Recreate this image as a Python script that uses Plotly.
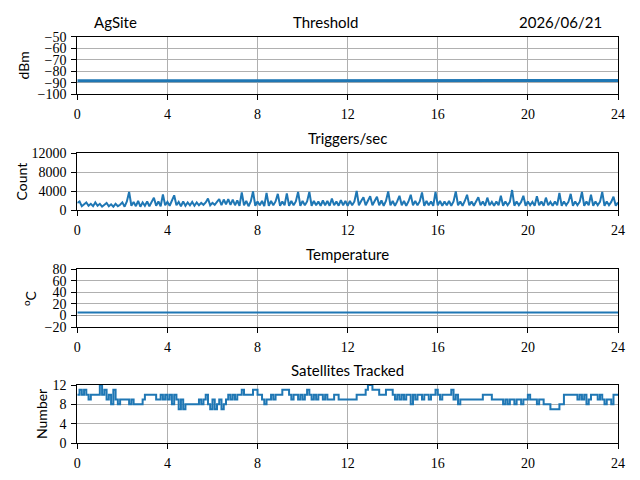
import plotly.graph_objects as go

# ---------------------------------------------------------------------------
# data (hours since midnight)
# ---------------------------------------------------------------------------
hours = [i / 10 for i in range(241)]          # 0.1 h sample grid
slow_hours = [i / 2 for i in range(49)]       # 0.5 h sample grid
temp_hours = [0, 4, 8, 12, 16, 20, 24]

threshold_dbm = [
    -88.2, -88.2, -88.3, -88.2, -88.0, -88.0, -88.0, -88.0, -88.0, -88.0,
    -88.0, -87.8, -87.9, -88.0, -88.0, -88.0, -88.0, -88.0, -88.0, -88.0,
    -88.0, -88.0, -88.0, -88.0, -88.0, -88.0, -88.0, -88.0, -88.0, -88.0,
    -88.0, -88.0, -88.0, -88.0, -88.0, -88.0, -88.0, -88.0, -88.0, -88.0,
    -88.0, -88.0, -88.0, -88.0, -88.0, -88.0, -88.0, -88.0, -88.0,
]

triggers = [
    1500, 1800, 800, 1200, 1600, 900, 1300, 800, 1600, 900,
    1300, 700, 1200, 1500, 800, 1200, 700, 1300, 800, 1100,
    1600, 700, 1800, 3800, 900, 1700, 800, 1900, 700, 1600,
    900, 1800, 800, 1700, 2600, 900, 1800, 800, 3300, 1000,
    1700, 900, 1900, 3100, 1000, 1700, 800, 1800, 900, 1600,
    1000, 1700, 900, 1600, 1000, 1500, 1100, 1600, 2400, 1000,
    1500, 1100, 1700, 2300, 1000, 2200, 1200, 2300, 1100, 2200,
    1000, 2000, 900, 3700, 1000, 1900, 800, 1800, 3900, 900,
    1800, 1000, 1900, 800, 3600, 900, 1900, 1000, 1800, 3400,
    900, 1800, 1000, 3500, 900, 1900, 1000, 1800, 3800, 900,
    1900, 1000, 1800, 3800, 900, 1900, 1000, 1800, 900, 2000,
    1000, 1900, 900, 2400, 1000, 1800, 900, 2100, 1000, 1900,
    900, 1900, 1000, 1800, 4000, 1000, 1900, 2700, 1000, 1800,
    2900, 1000, 1900, 2800, 1000, 2000, 900, 1900, 3900, 1000,
    1900, 900, 1800, 3000, 1000, 1900, 900, 1800, 3200, 1000,
    1900, 1000, 1800, 3700, 900, 1900, 1000, 1800, 900, 3800,
    1000, 1900, 900, 1800, 1000, 1900, 900, 1800, 3900, 1000,
    1800, 900, 1900, 3200, 1000, 1800, 900, 1700, 2700, 1000,
    1800, 900, 2600, 1000, 1700, 900, 1800, 1000, 3000, 900,
    1800, 1000, 1700, 4200, 900, 1800, 1000, 1700, 3000, 900,
    1800, 1000, 1700, 900, 2900, 1000, 1800, 900, 2600, 1000,
    1700, 900, 1800, 1000, 3600, 900, 1800, 1000, 1700, 3400,
    900, 1800, 1000, 1700, 3800, 900, 1800, 1000, 3200, 900,
    1800, 1000, 1700, 3800, 900, 1800, 1000, 1700, 2800, 900,
    1600,
]

temperature_c = [5.0, 5.0, 5.0, 5.0, 5.0, 5.0, 5.0]

satellites = [
    10, 11, 10, 11, 10, 9, 10, 10, 10, 10,
    12, 10, 11, 9, 10, 8, 11, 9, 8, 9,
    9, 9, 9, 8, 9, 8, 8, 8, 8, 9,
    10, 10, 10, 10, 10, 9, 9, 10, 9, 10,
    9, 10, 8, 10, 9, 7, 9, 7, 8, 8,
    8, 8, 8, 8, 9, 8, 9, 10, 8, 7,
    9, 7, 8, 9, 7, 8, 9, 10, 9, 10,
    9, 10, 10, 11, 10, 10, 10, 10, 11, 11,
    10, 10, 9, 8, 9, 9, 10, 9, 10, 10,
    10, 11, 11, 11, 10, 9, 10, 10, 9, 10,
    9, 10, 11, 10, 9, 10, 9, 10, 10, 9,
    10, 9, 9, 9, 10, 10, 9, 9, 9, 9,
    9, 9, 9, 9, 10, 10, 10, 10, 11, 12,
    12, 11, 11, 11, 10, 10, 10, 11, 11, 11,
    10, 9, 10, 9, 10, 9, 10, 10, 8, 10,
    9, 10, 10, 9, 10, 10, 9, 10, 10, 11,
    10, 9, 10, 10, 10, 10, 11, 9, 10, 8,
    9, 9, 9, 9, 9, 9, 9, 9, 9, 9,
    10, 10, 10, 10, 9, 9, 9, 9, 9, 8,
    9, 8, 9, 9, 8, 9, 9, 8, 9, 9,
    10, 9, 9, 9, 8, 9, 9, 8, 8, 8,
    7, 7, 7, 7, 8, 8, 10, 10, 10, 10,
    10, 10, 9, 10, 9, 10, 8, 9, 10, 10,
    10, 9, 10, 9, 8, 9, 9, 8, 10, 10,
    10,
]

site_name = "AgSite"
date_str = "2026/06/21"
titles = ["Threshold", "Triggers/sec", "Temperature", "Satellites Tracked"]
y_titles = ["dBm", "Count", "<sup>o</sup>C", "Number"]
y_ranges = [[-100, -50], [0, 12000], [-20, 80], [0, 12]]
y_dticks = [10, 4000, 20, 4]
x_ticks = [0, 4, 8, 12, 16, 20, 24]

# ---------------------------------------------------------------------------
blue = "#1f77b4"
serif = "Liberation Serif"
sans = "Lato"
W, H, OFF = 640, 480, 8     # page body has an 8px margin


def px_x(px):
    return (px - OFF) / W


def px_y(py):
    return 1 - (py - OFF) / H


x_dom = [px_x(77.3), px_x(618)]
panel_px = [(36.7, 94.3), (153, 210), (269, 327), (385, 443)]
# where the y-axis titles sit (centre x, window pixels)
ytitle_px = [23, 21, 29, 41]
title_x_px = [325.7, 347.6, 347.6, 347.6]
line_w = [3, 2, 2, 2]

series = [
    (slow_hours, threshold_dbm, "linear"),
    (hours, triggers, "linear"),
    (temp_hours, temperature_c, "linear"),
    (hours, satellites, "hv"),
]

fig = go.Figure()
for i, (xs, ys, shape) in enumerate(series):
    sfx = "" if i == 0 else str(i + 1)
    fig.add_trace(go.Scatter(
        x=xs, y=ys, mode="lines",
        line=dict(color=blue, width=line_w[i], shape=shape),
        xaxis="x" + sfx, yaxis="y" + sfx, showlegend=False,
    ))

layout = dict(
    width=W, height=H,
    margin=dict(l=0, r=0, t=0, b=0),
    paper_bgcolor="white", plot_bgcolor="white",
    font=dict(family=sans, size=14, color="black"),
    annotations=[],
)
axis_common = dict(
    showline=True, mirror=True, linecolor="black", linewidth=1,
    ticks="outside", ticklen=5, tickwidth=1, tickcolor="black",
    showgrid=True, gridcolor="#b0b0b0", gridwidth=1, zeroline=False,
    tickfont=dict(family=serif, size=14, color="black"),
    automargin=False,
)
for i in range(4):
    sfx = "" if i == 0 else str(i + 1)
    top, bot = panel_px[i]
    y_dom = [px_y(bot), px_y(top)]
    layout["xaxis" + sfx] = dict(
        axis_common, domain=x_dom, anchor="y" + sfx,
        range=[0, 24], tickvals=x_ticks, ticklabelstandoff=2,
    )
    layout["yaxis" + sfx] = dict(
        axis_common, domain=y_dom, anchor="x" + sfx,
        range=y_ranges[i], dtick=y_dticks[i], tick0=0, tickformat="d",
        ticklabelstandoff=2,
    )
    # y-axis title as rotated text
    layout["annotations"].append(dict(
        text=y_titles[i], xref="paper", yref="paper",
        x=px_x(ytitle_px[i]), y=(y_dom[0] + y_dom[1]) / 2,
        xanchor="center", yanchor="middle", textangle=-90,
        showarrow=False, font=dict(family=sans, size=14),
    ))
    layout["annotations"].append(dict(
        text=titles[i], xref="paper", yref="paper",
        x=px_x(title_x_px[i]), y=y_dom[1],
        xanchor="center", yanchor="bottom", yshift=4,
        showarrow=False, font=dict(family=sans, size=15),
    ))

layout["annotations"].append(dict(
    text=site_name, xref="paper", yref="paper", x=px_x(115.7),
    y=px_y(36.7), xanchor="center", yanchor="bottom", yshift=4,
    showarrow=False, font=dict(family=sans, size=15),
))
layout["annotations"].append(dict(
    text=date_str, xref="paper", yref="paper", x=px_x(560.5),
    y=px_y(36.7), xanchor="center", yanchor="bottom", yshift=4,
    showarrow=False, font=dict(family=sans, size=15),
))

fig.update_layout(layout)
fig.write_html("out.html")
